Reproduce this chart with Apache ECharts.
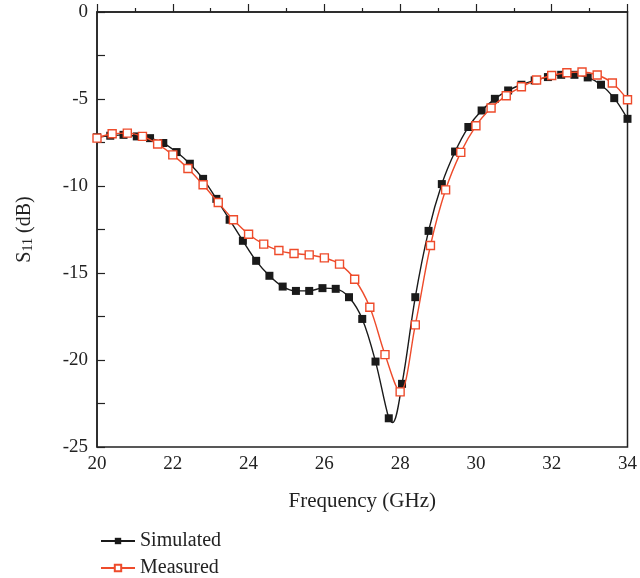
<!DOCTYPE html>
<html lang="en">
<head>
  <meta charset="utf-8">
  <style>
    html, body { margin: 0; padding: 0; background: #fff; }
    #container { width: 640px; height: 578px; }
  </style>
</head>
<body>
  <div id="container"></div>
  <script src="https://fastly.jsdelivr.net/npm/echarts@6/dist/echarts.min.js"></script>
  <script>
    // Simulated: 41 points, 20 -> 34 GHz every 0.35 GHz
    var simFreq = [20, 20.35, 20.7, 21.05, 21.4, 21.75, 22.1, 22.45, 22.8, 23.15, 23.5, 23.85,
      24.2, 24.55, 24.9, 25.25, 25.6, 25.95, 26.3, 26.65, 27, 27.35, 27.7, 28.05, 28.4, 28.75,
      29.1, 29.45, 29.8, 30.15, 30.5, 30.85, 31.2, 31.55, 31.9, 32.25, 32.6, 32.95, 33.3, 33.65, 34];
    var simS11 = [-7.2, -7.11, -7.06, -7.15, -7.25, -7.53, -8.05, -8.72, -9.59, -10.74, -11.94, -13.15,
      -14.3, -15.16, -15.78, -16.03, -16.03, -15.87, -15.91, -16.39, -17.64, -20.09, -23.35, -21.37, -16.39, -12.58,
      -9.89, -8.02, -6.61, -5.66, -4.99, -4.51, -4.18, -3.93, -3.74, -3.61, -3.61, -3.76, -4.18, -4.95, -6.14];
    // bottom of the simulated dip (between markers, no symbol)
    var simDip = [27.8, -23.6];

    // Measured: 36 points, 20 -> 34 GHz every 0.4 GHz
    var meaFreq = [20, 20.4, 20.8, 21.2, 21.6, 22, 22.4, 22.8, 23.2, 23.6, 24, 24.4, 24.8, 25.2,
      25.6, 26, 26.4, 26.8, 27.2, 27.6, 28, 28.4, 28.8, 29.2, 29.6, 30, 30.4, 30.8, 31.2, 31.6,
      32, 32.4, 32.8, 33.2, 33.6, 34];
    var meaS11 = [-7.25, -7.0, -6.96, -7.15, -7.59, -8.21, -8.99, -9.93, -10.95, -11.94, -12.77, -13.34,
      -13.71, -13.88, -13.96, -14.13, -14.49, -15.36, -16.97, -19.69, -21.83, -17.98, -13.42, -10.22,
      -8.07, -6.54, -5.52, -4.81, -4.3, -3.91, -3.65, -3.49, -3.45, -3.62, -4.08, -5.04];

    var xTicks = [20, 22, 24, 26, 28, 30, 32, 34];
    var yTicks = [0, -5, -10, -15, -20, -25];

    var simData = simFreq.map(function (f, i) { return [f, simS11[i]]; });
    simData.splice(23, 0, { value: simDip, symbol: 'none' });
    var meaData = meaFreq.map(function (f, i) { return [f, meaS11[i]]; });

    var font = 'Liberation Serif';
    var axisColor = '#222';

    function legendAt(top, name) {
      return {
        orient: 'vertical',
        left: 95, top: top,
        itemWidth: 34, itemHeight: 8,
        textStyle: { fontFamily: font, fontSize: 20, color: '#222' },
        data: [name]
      };
    }

    var chart = echarts.init(document.getElementById('container'));
    chart.setOption({
      animation: false,
      textStyle: { fontFamily: font },
      grid: {
        left: 97, right: 12, top: 12, bottom: 131,
        show: true, borderColor: axisColor, borderWidth: 1.5, backgroundColor: 'transparent'
      },
      legend: [legendAt(526, 'Simulated'), legendAt(553, 'Measured')],
      xAxis: {
        type: 'value',
        min: xTicks[0], max: xTicks[xTicks.length - 1], interval: 2,
        name: 'Frequency (GHz)',
        nameLocation: 'middle', nameGap: 44,
        nameTextStyle: { fontFamily: font, fontSize: 21, color: '#222' },
        axisLine: { lineStyle: { color: axisColor, width: 1.5 } },
        axisTick: { inside: true, length: 8, lineStyle: { color: axisColor, width: 1.2 } },
        minorTick: { show: true, splitNumber: 2, length: 4, lineStyle: { color: axisColor, width: 1.2 } },
        axisLabel: { fontFamily: font, fontSize: 19, color: '#222', margin: 8 },
        splitLine: { show: false }
      },
      yAxis: {
        type: 'value',
        min: yTicks[yTicks.length - 1], max: yTicks[0], interval: 5,
        name: '{a|S}{b|11}{a| (dB)}',
        nameLocation: 'middle', nameGap: 62, nameRotate: 90,
        nameTextStyle: {
          rich: {
            a: { fontFamily: font, fontSize: 20, color: '#222' },
            b: { fontFamily: font, fontSize: 14, color: '#222', verticalAlign: 'bottom', padding: [6, 0, 0, 0] }
          }
        },
        axisLine: { lineStyle: { color: axisColor, width: 1.5 } },
        axisTick: { inside: true, length: 8, lineStyle: { color: axisColor, width: 1.2 } },
        minorTick: { show: true, splitNumber: 2, length: 8, lineStyle: { color: axisColor, width: 1.2 } },
        axisLabel: { fontFamily: font, fontSize: 19, color: '#222', margin: 9 },
        splitLine: { show: false }
      },
      series: [
        {
          name: 'Simulated',
          type: 'line',
          smooth: 0.35,
          data: simData,
          symbol: 'rect',
          symbolSize: 8,
          itemStyle: { color: '#1a1a1a' },
          lineStyle: { color: '#1a1a1a', width: 1.4 },
          z: 2
        },
        {
          name: 'Measured',
          type: 'line',
          smooth: 0.35,
          data: meaData,
          symbol: 'rect',
          symbolSize: 8,
          itemStyle: { color: '#fff', borderColor: '#ee4b2b', borderWidth: 1.4 },
          lineStyle: { color: '#ee4b2b', width: 1.4 },
          z: 3
        }
      ]
    });
  </script>
</body>
</html>
